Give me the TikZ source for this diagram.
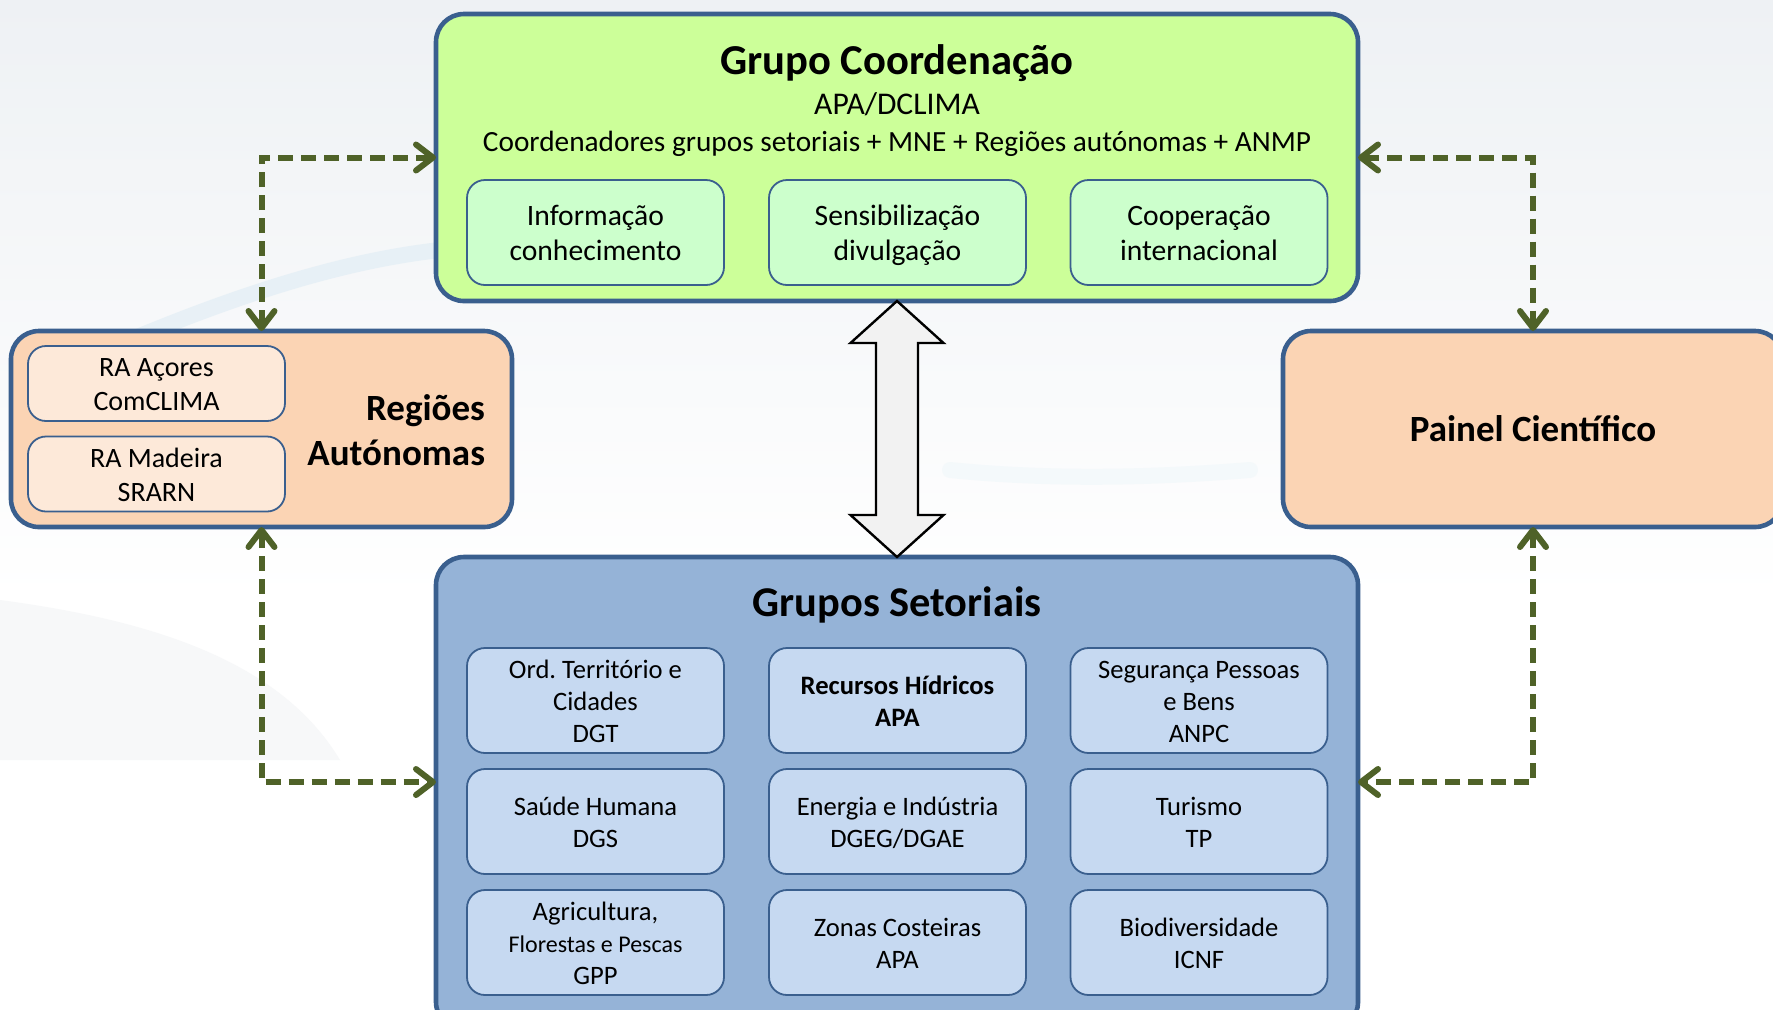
\documentclass[tikz,border=0pt]{standalone}
\usepackage{fontspec}
\setmainfont{Carlito}
\usetikzlibrary{arrows.meta,calc}

\definecolor{boxline}{HTML}{3A5F8E}
\definecolor{coordfill}{HTML}{CCFF99}
\definecolor{coordsub}{HTML}{CCFFCC}
\definecolor{regfill}{HTML}{FBD4B4}
\definecolor{regsub}{HTML}{FDE9D9}
\definecolor{setfill}{HTML}{95B3D7}
\definecolor{setsub}{HTML}{C6D9F1}
\definecolor{linkgreen}{HTML}{4F6228}
\definecolor{meshgray}{HTML}{EEF1F4}
\definecolor{swoosh}{HTML}{E2EEF5}

\newcommand{\grupobox}[4][]{\node[subbox,#1] at (#2) (#3) {\rule{0pt}{0.8\baselineskip}#4\rule[-0.2\baselineskip]{0pt}{0pt}}}

\begin{document}
\begin{tikzpicture}[x=0.5pt,y=-0.5pt,
    bigbox/.style={draw=boxline,line width=2.3pt,rounded corners=14pt,outer sep=0pt},
    subbox/.style={draw=boxline,line width=0.9pt,rounded corners=9pt,inner sep=0pt,
      minimum width=128.5pt,minimum height=52.5pt,align=center,
      font=\fontsize{13.3}{16}\selectfont},
    link/.style={linkgreen,line width=3pt,dash pattern=on 7.5pt off 4pt,<->},
    >={Straight Barb[length=8.5pt,width=13pt,round]}]
				\useasboundingbox (0,0) rectangle (1773,1009);
				\clip (0,0) rectangle (1773,1009);
				\fill[white] (0,0) rectangle (1773,1009);
				
				% fundo
				\shade[top color=meshgray,bottom color=white] (0,0) rectangle (1773,600);
				\fill[meshgray!50] (0,600) .. controls (150,620) and (280,660) .. (340,760) -- (0,760) -- cycle;
				\draw[swoosh,line width=8pt,line cap=round,opacity=0.7] (130,340) .. controls (250,290) and (350,260) .. (440,250);
				\draw[swoosh!50,line width=8pt,line cap=round,opacity=0.6] (950,470) .. controls (1050,480) and (1150,478) .. (1250,470);
				
				% grupo de coordenacao
				\node[bigbox,fill=coordfill,minimum width=461pt,minimum height=143.5pt] at (897,157.5) (gc) {};
				\node[anchor=base,font=\bfseries\fontsize{21.3}{26}\selectfont] at (897,74) (gctitle) {Grupo Coordenação};
				\node[anchor=base,font=\fontsize{15.8}{18}\selectfont] at (897,114) (gcapa) {APA/DCLIMA};
				\node[anchor=base,font=\fontsize{14.65}{18}\selectfont] at (897,151) (gcmembros) {Coordenadores grupos setoriais + MNE + Regiões autónomas + ANMP};
				
				\grupobox[fill=coordsub,font=\fontsize{14.8}{17.5}\selectfont]{595.5,232.5}{info}{Informação\\conhecimento};
				\grupobox[fill=coordsub,font=\fontsize{14.8}{17.5}\selectfont]{897.5,232.5}{sens}{Sensibilização\\divulgação};
				\grupobox[fill=coordsub,font=\fontsize{14.8}{17.5}\selectfont]{1199,232.5}{coop}{Cooperação\\internacional};
				
				% regioes autonomas
				\node[bigbox,fill=regfill,minimum width=250.5pt,minimum height=98pt] at (261.5,429) (ra) {};
				\grupobox[fill=regsub,minimum height=37.5pt,font=\fontsize{14}{17}\selectfont]{156.5,383.5}{acores}{RA Açores\\ComCLIMA};
				\grupobox[fill=regsub,minimum height=37.5pt,font=\fontsize{14}{17}\selectfont]{156.5,474}{madeira}{RA Madeira\\SRARN};
				\node[anchor=east,align=right,font=\bfseries\fontsize{18.5}{22.6}\selectfont] at (492,430) (ratitle) {Regiões\\Autónomas};
				
				% painel cientifico
				\node[bigbox,fill=regfill,minimum width=250pt,minimum height=98pt,font=\bfseries\fontsize{18.5}{22.6}\selectfont] at (1533,429) (ps) {Painel Científico};
				
				% grupos setoriais
				\node[bigbox,fill=setfill,minimum width=461pt,minimum height=236.5pt] at (897,793.5) (gs) {};
				\node[anchor=base,font=\bfseries\fontsize{21.2}{26}\selectfont] at (897,616) (gstitle) {Grupos Setoriais};
				
				\grupobox[fill=setsub]{595.5,700.5}{ordter}{Ord.\ Território e\\Cidades\\DGT};
				\grupobox[fill=setsub,font=\bfseries\fontsize{13.3}{16}\selectfont]{897.5,700.5}{recH}{Recursos Hídricos\\APA};
				\grupobox[fill=setsub]{1199,700.5}{segP}{Segurança Pessoas\\e Bens\\ANPC};
				
				\grupobox[fill=setsub]{595.5,821.5}{saude}{Saúde Humana\\DGS};
				\grupobox[fill=setsub]{897.5,821.5}{energ}{Energia e Indústria\\DGEG/DGAE};
				\grupobox[fill=setsub]{1199,821.5}{turis}{Turismo\\TP};
				
				\grupobox[fill=setsub]{595.5,942.5}{agric}{Agricultura,\\{\fontsize{12}{15}\selectfont Florestas e Pescas}\\GPP};
				\grupobox[fill=setsub]{897.5,942.5}{zonas}{Zonas Costeiras\\APA};
				\grupobox[fill=setsub]{1199,942.5}{biod}{Biodiversidade\\ICNF};
				
				% ligacoes
				\draw[link] (ra.north) |- (gc.west);
				\draw[link] (gc.east) -| (ps.north);
				\draw[link] (ra.south) |- ([yshift=5.75pt]gs.west);
				\draw[link] (ps.south) |- ([yshift=5.75pt]gs.east);
				
				% seta dupla
				\coordinate (ta) at (gc.south);
				\coordinate (ba) at (gs.north);
				\draw[black,line width=1.2pt,fill=black!5,line join=miter] (ta) -- ($(ta)+(46.5,42)$) -- ($(ta)+(21,42)$) -- ($(ba)+(21,-42)$) -- ($(ba)+(46.5,-42)$) -- (ba) -- ($(ba)+(-46.5,-42)$) -- ($(ba)+(-21,-42)$) -- ($(ta)+(-21,42)$) -- ($(ta)+(-46.5,42)$) -- cycle;
				
\end{tikzpicture}
\end{document}
